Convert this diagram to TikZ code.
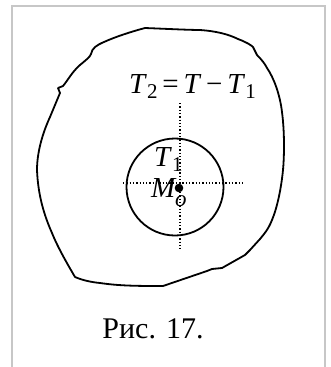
\documentclass[tikz,border=0pt]{standalone}
\usepackage{fontspec}
\setmainfont{Liberation Serif}
\begin{document}
\begin{tikzpicture}[x=1pt,y=-1pt,
  frame/.style={draw=black!22,line width=2pt},
  contour/.style={draw=black,line width=1.8pt,line join=round},
  axis/.style={draw=black,line width=1.4pt,dash pattern=on 1.3pt off 2pt},
  lbl/.style={font=\fontsize{29}{29}\selectfont,inner sep=0pt}]
\useasboundingbox (0,0) rectangle (331,367);
\draw[frame] (12,367) -- (12,6) -- (325,6) -- (325,367);
% outer region
\draw[contour] (145,28) .. controls (170,29) and (190,30) .. (200,30)
  .. controls (215,31) and (228,34) .. (238,39)
  .. controls (246,42) and (251,45) .. (253,47)
  -- (257,55) .. controls (262,60) and (265,64) .. (267,68)
  .. controls (274,78) and (280,95) .. (282,112)
  .. controls (285,135) and (284,160) .. (283,170)
  .. controls (281,190) and (277,208) .. (272,220)
  .. controls (268,230) and (264,234) .. (260,239)
  -- (250,250) -- (245,255) -- (222,268) -- (212,269) -- (207,271)
  -- (163,286) .. controls (140,286) and (120,286) .. (100,283)
  .. controls (90,282) and (82,280) .. (75,277)
  .. controls (68,265) and (58,248) .. (52,233)
  .. controls (44,215) and (38,195) .. (37,170)
  .. controls (37,150) and (44,130) .. (50,117)
  -- (60,93) -- (58,88) -- (63,86)
  .. controls (68,80) and (72,72) .. (80,65)
  .. controls (86,60) and (90,57) .. (91,54)
  .. controls (92,48) and (97,45) .. (104,42)
  .. controls (115,37) and (130,32) .. cycle;
% inner circle
\node[draw=black,line width=1.8pt,circle,minimum size=97pt,inner sep=0pt] (c) at (175,187) {};
% axes
\coordinate (vt) at (180,103); \coordinate (vb) at (180,249);
\coordinate (hl) at (123,183); \coordinate (hr) at (245,183);
\draw[axis] (vt) -- (vb);
\draw[axis] (hl) -- (hr);
\fill (179,188) circle (4.3pt);
% labels
\node[lbl,anchor=base west] (t2) at (129,93) {\textit{T}\raisebox{-5pt}{\fontsize{21}{21}\selectfont 2}\,=\,\textit{T}\,−\,\textit{T}\raisebox{-5pt}{\fontsize{21}{21}\selectfont 1}};
\node[lbl,anchor=base west] (t1) at (154,166) {\textit{T}\raisebox{-5pt}{\fontsize{21}{21}\selectfont 1}};
\node[lbl,anchor=base west] (m) at (151,197) {\textit{M}};
\node[lbl,anchor=base west] (o) at (175,206) {\fontsize{23}{23}\selectfont\textit{o}};
\node[lbl,font=\fontsize{30}{30}\selectfont,anchor=base] (cap) at (153,338) {Рис. 17.};
\end{tikzpicture}
\end{document}
